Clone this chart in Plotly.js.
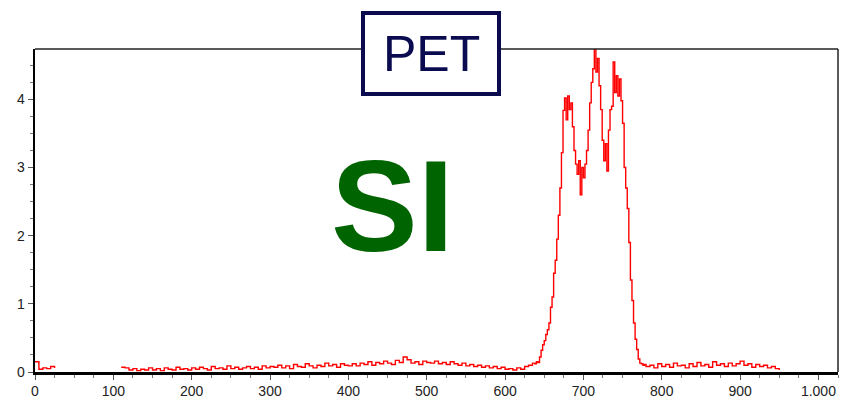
<!DOCTYPE html>
<html>
<head>
<meta charset="utf-8">
<script src="https://cdn.plot.ly/plotly-3.0.1.min.js"></script>
<style>html,body{margin:0;padding:0;background:#fff}#chart{width:841px;height:400px}</style>
</head>
<body>
<div id="chart"></div>
<script>
// ---- data ----
const baseX = [0,5,10,15,20,25,30,35,40,45,50,55,60,65,70,75,80,85,90,95,100,105,
  110,115,120,125,130,135,140,145,150,155,160,165,170,175,180,185,190,195,200,
  205,210,215,220,225,230,235,240,245,250,255,260,265,270,275,280,285,290,295,300,
  305,310,315,320,325,330,335,340,345,350,355,360,365,370,375,380,385,390,395,400,
  405,410,415,420,425,430,435,440,445,450,455,460,465,470,475,480,485,490,495,500,
  505,510,515,520,525,530,535,540,545,550,555,560,565,570,575,580,585,590,595,600,
  605,610,615,620,625,630,635];
const baseY = [0.15,0.04,0.06,0.05,0.08,0.06,null,null,null,null,null,null,null,null,null,null,null,null,null,null,null,null,
  0.07,0.06,0.03,0.05,0.02,0.04,0.03,0.06,0.03,0.05,0.02,0.06,0.04,0.03,0.07,0.04,0.05,0.03,0.06,
  0.04,0.07,0.05,0.03,0.08,0.05,0.06,0.04,0.09,0.05,0.07,0.04,0.06,0.08,0.05,0.07,0.04,0.09,0.06,0.08,
  0.07,0.10,0.06,0.09,0.05,0.11,0.08,0.07,0.12,0.09,0.06,0.10,0.08,0.13,0.09,0.11,0.07,0.12,0.10,0.09,
  0.12,0.09,0.13,0.11,0.15,0.10,0.14,0.12,0.16,0.13,0.11,0.17,0.14,0.22,0.18,0.13,0.15,0.11,0.16,0.14,
  0.13,0.16,0.12,0.14,0.11,0.15,0.12,0.10,0.13,0.09,0.11,0.08,0.10,0.07,0.09,0.06,0.08,0.05,0.07,0.04,
  0.05,0.03,0.06,0.04,0.08,0.10,0.13];
const peakX = [638,640,642,644,646,648,650,652,654,656,658,660,662,664,666,668,670,672,674,676,678,680,
  682,684,686,688,690,692,694,696,698,700,702,704,706,708,710,712,714,716,718,720,722,724,726,728,730,
  732,734,736,738,740,742,744,746,748,750,752,754,756,758,760,762,764,766,768,770,772,774,776,778,780];
const peakY = [0.12,0.15,0.14,0.22,0.32,0.40,0.46,0.55,0.62,0.72,0.95,1.10,1.45,1.64,1.95,2.30,2.70,3.22,3.84,4.02,3.70,4.05,
  3.85,3.95,3.60,3.25,3.05,2.90,3.10,2.60,3.00,2.85,3.05,3.25,3.55,3.95,4.25,4.45,4.75,4.40,4.60,4.20,3.85,3.40,3.10,3.35,2.95,
  3.55,3.85,3.90,4.55,4.10,4.35,4.05,4.30,3.98,3.65,3.00,2.70,2.40,1.90,1.35,1.05,0.72,0.48,0.33,0.19,0.13,0.12,0.10,0.11,0.08];
const tailX = [785,790,795,800,805,810,815,820,825,830,835,840,845,850,855,860,865,870,875,880,885,890,
  895,900,905,910,915,920,925,930,935,940,945,950];
const tailY = [0.10,0.06,0.12,0.08,0.11,0.07,0.13,0.09,0.10,0.06,0.12,0.08,0.14,0.09,0.11,0.07,0.15,0.10,0.12,0.08,0.13,0.09,
  0.12,0.16,0.10,0.12,0.07,0.11,0.08,0.10,0.06,0.08,0.05,0.03];
const xTickVals = [0,100,200,300,400,500,600,700,800,900,1000];
const xTickText = ['0','100','200','300','400','500','600','700','800','900','1.000'];
const yTickVals = [0,1,2,3,4];
const titleText = 'PET';
const labelText = 'SI';

const xs = baseX.concat(peakX, tailX);
const ys = baseY.concat(peakY, tailY);

// plot-area pixel geometry helpers (for overlays only)
const L = 35, R = 3, T = 49, B = 28, W = 841, H = 400;
const pw = W - L - R, ph = H - T - B;
const px = v => (v - L) / pw;
const py = v => (H - B - v) / ph;

const trace = {
  x: xs, y: ys, type: 'scatter', mode: 'lines',
  line: {color: '#ff0000', width: 1.4, shape: 'hv'},
  connectgaps: false, hoverinfo: 'skip'
};

const font = {family: 'Arial, "Liberation Sans", sans-serif', size: 14, color: '#222'};
const layout = {
  width: W, height: H,
  margin: {l: L, r: R, t: T, b: B, pad: 0},
  paper_bgcolor: '#fff', plot_bgcolor: '#fff',
  showlegend: false,
  font: font,
  xaxis: {
    range: [0, 1025], showgrid: false, zeroline: false,
    showline: true, linecolor: '#000', linewidth: 2.5,
    ticks: 'outside', ticklen: 5, tickwidth: 1, tickcolor: '#555',
    tickvals: xTickVals, ticktext: xTickText,
    minor: {dtick: 25, tick0: 0, ticks: 'outside', ticklen: 3, tickwidth: 1, tickcolor: '#777', showgrid: false},
    tickfont: font, fixedrange: true
  },
  yaxis: {
    range: [0, 4.74], showgrid: false, zeroline: false,
    showline: true, linecolor: '#000', linewidth: 2.5,
    ticks: 'outside', ticklen: 5, tickwidth: 1, tickcolor: '#555',
    tickvals: yTickVals,
    minor: {dtick: 0.25, tick0: 0, ticks: 'outside', ticklen: 3, tickwidth: 1, tickcolor: '#777', showgrid: false},
    tickfont: font, fixedrange: true
  },
  shapes: [
    {type: 'line', xref: 'paper', yref: 'paper', x0: 0, x1: 1, y0: 1, y1: 1, line: {color: '#222', width: 1.5}},
    {type: 'line', xref: 'paper', yref: 'paper', x0: 1, x1: 1, y0: 0, y1: 1, line: {color: '#222', width: 1.5}},
    {type: 'rect', xref: 'paper', yref: 'paper', x0: px(363), x1: px(499), y0: py(94), y1: py(13),
     line: {color: '#0b0b4f', width: 4}, fillcolor: '#fff', layer: 'above'}
  ],
  annotations: [
    {text: titleText, xref: 'paper', yref: 'paper', x: px(431), y: py(54), xanchor: 'center', yanchor: 'middle',
     showarrow: false, font: {family: 'Arial, "Liberation Sans", sans-serif', size: 50, color: '#0b0b4f'}},
    {text: '<b>' + labelText + '</b>', xref: 'paper', yref: 'paper', x: px(392), y: py(206), xanchor: 'center', yanchor: 'middle',
     showarrow: false, font: {family: 'Arial, "Liberation Sans", sans-serif', size: 130, color: '#006400'}}
  ]
};

Plotly.newPlot('chart', [trace], layout, {displayModeBar: false, staticPlot: true});
</script>
</body>
</html>
